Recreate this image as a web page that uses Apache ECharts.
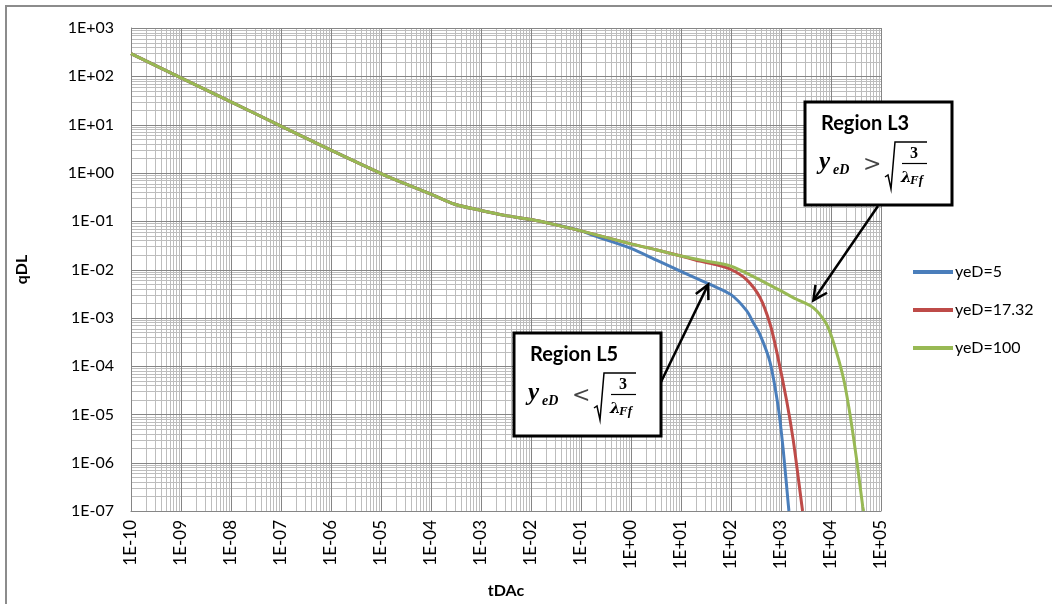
<!DOCTYPE html>
<html><head><meta charset="utf-8">
<script src="https://cdn.jsdelivr.net/npm/echarts@6/dist/echarts.min.js"></script>
<style>html,body{margin:0;padding:0;background:#fff}#c{width:1052px;height:604px}</style>
</head><body><div id="c"></div>
<script>
// ---------------- data ----------------
const seriesNames = ['yeD=5', 'yeD=17.32', 'yeD=100'];
const xTitle = 'tDAc';
const yTitle = 'qDL';

// common early-time part (all three curves overlap)
const tShared = [1e-10, 1e-9, 1e-8, 1e-7, 1e-6, 1e-5, 3e-5, 1e-4, 3e-4, 1e-3, 3e-3, 1e-2, 3e-2, 1e-1];
const qShared = [295, 93, 29.5, 9.3, 2.95, 0.97, 0.60, 0.363, 0.224, 0.167, 0.132, 0.108, 0.085, 0.063];

// yeD = 5
const tYeD5 = [0.18, 1, 3.16, 10, 38, 100, 205, 280, 380, 600, 883, 1110, 1400, 1440];
const qYeD5 = [0.0501, 0.0275, 0.0158, 0.00912, 0.0049, 0.00302, 0.00141, 7.9e-4, 4.5e-4, 1.23e-4, 1.38e-5, 1.8e-6, 1.35e-7, 1.0e-7];

// yeD = 100
const tYeD100 = [1, 3.16, 10, 30, 100, 300, 1000, 2000, 4400, 8000, 11100, 17600, 24000, 32700, 43000, 45000];
const qYeD100 = [0.0339, 0.0257, 0.019, 0.0151, 0.0117, 0.0069, 0.0036, 0.00245, 0.00162, 7.6e-4, 3.2e-4, 5.8e-5, 1.0e-5, 1.12e-6, 1.26e-7, 1.0e-7];

// yeD = 17.32 (follows yeD=100 up to t=10)
const tYeD17 = [1, 3.16, 10, 20, 50, 100, 200, 380, 600, 820, 1300, 1760, 2600, 2700];
const qYeD17 = [0.0339, 0.0257, 0.019, 0.0155, 0.0126, 0.01, 0.0063, 0.00263, 7.6e-4, 2.0e-4, 1.9e-5, 2.9e-6, 1.35e-7, 1.0e-7];

// axis ranges
const xRange = [1e-10, 1e5];
const yRange = [1e-7, 1e3];

// annotation arrow tips (data coordinates)
const tipL5 = [35, 4.9e-3];
const tipL3 = [4430, 2.3e-3];

// ---------------- helpers ----------------
function pairs(ts, qs) { return ts.map((t, i) => [t, qs[i]]); }
function sci(v) {
  const e = Math.round(Math.log10(v));
  const a = Math.abs(e);
  return '1E' + (e < 0 ? '-' : '+') + (a < 10 ? '0' : '') + a;
}
function gridValues(lo, hi) {
  const major = [], minor = [];
  const e0 = Math.round(Math.log10(lo)), e1 = Math.round(Math.log10(hi));
  for (let e = e0; e <= e1; e++) {
    major.push(Math.pow(10, e));
    if (e < e1) for (let m = 2; m <= 9; m++) minor.push(m * Math.pow(10, e));
  }
  return { major, minor };
}
const gx = gridValues(xRange[0], xRange[1]);
const gy = gridValues(yRange[0], yRange[1]);

const colors = ['#4A7EBB', '#BE4B48', '#98B954'];
const FONT = 'Lato';

function vLineSeries(vals, color, z) {
  return {
    type: 'custom', silent: true, z: z, legendHoverLink: false,
    data: vals.map(v => [v, 1]),
    renderItem: function (params, api) {
      const v = api.value(0);
      const a = api.coord([v, yRange[1]]), b = api.coord([v, yRange[0]]);
      const x = Math.round(a[0]) + 0.5;
      return { type: 'line', shape: { x1: x, y1: a[1], x2: x, y2: b[1] }, style: { stroke: color, lineWidth: 1 } };
    }
  };
}
function hLineSeries(vals, color, z) {
  return {
    type: 'custom', silent: true, z: z, legendHoverLink: false,
    data: vals.map(v => [1, v]),
    renderItem: function (params, api) {
      const v = api.value(1);
      const a = api.coord([xRange[0], v]), b = api.coord([xRange[1], v]);
      const y = Math.round(a[1]) + 0.5;
      return { type: 'line', shape: { x1: a[0], y1: y, x2: b[0], y2: y }, style: { stroke: color, lineWidth: 1 } };
    }
  };
}

const lineData = [
  pairs(tShared.concat(tYeD5), qShared.concat(qYeD5)),
  pairs(tShared.concat(tYeD17), qShared.concat(qYeD17)),
  pairs(tShared.concat(tYeD100), qShared.concat(qYeD100))
];

const chart = echarts.init(document.getElementById('c'), null, { renderer: 'canvas' });
const option = {
  animation: false,
  backgroundColor: '#fff',
  grid: { left: 131, top: 28, right: 171, bottom: 86, containLabel: false },
  legend: {
    data: seriesNames,
    orient: 'vertical', left: 911, top: 264, padding: 0,
    itemWidth: 40, itemHeight: 14, itemGap: 22,
    itemStyle: { opacity: 0, borderWidth: 0 },
    lineStyle: { width: 4 },
    textStyle: { fontFamily: FONT, fontSize: 16, color: '#000', padding: [0, 0, 0, -3] }
  },
  xAxis: {
    type: 'log', logBase: 10, min: xRange[0], max: xRange[1], interval: 1, splitNumber: 15,
    name: xTitle, nameLocation: 'middle', nameGap: 72,
    nameTextStyle: { fontFamily: FONT, fontSize: 16, fontWeight: 'bold', color: '#000' },
    axisLine: { show: true, lineStyle: { color: '#868686', width: 1 } },
    axisTick: { show: false },
    splitLine: { show: false },
    axisLabel: { rotate: 90, margin: 9, fontFamily: FONT, fontSize: 17, color: '#000', formatter: sci, showMinLabel: true, showMaxLabel: true, hideOverlap: false }
  },
  yAxis: {
    type: 'log', logBase: 10, min: yRange[0], max: yRange[1], interval: 1, splitNumber: 10,
    name: yTitle, nameLocation: 'middle', nameGap: 101,
    nameTextStyle: { fontFamily: FONT, fontSize: 16, fontWeight: 'bold', color: '#000' },
    axisLine: { show: true, lineStyle: { color: '#868686', width: 1 } },
    axisTick: { show: false },
    splitLine: { show: false },
    axisLabel: { margin: 17, fontFamily: FONT, fontSize: 16, color: '#000', formatter: sci, showMinLabel: true, showMaxLabel: true, hideOverlap: false }
  },
  series: [
    vLineSeries(gx.minor, '#bdbdbd', 1),
    hLineSeries(gy.minor, '#bdbdbd', 1),
    vLineSeries(gx.major, '#868686', 1),
    hLineSeries(gy.major, '#868686', 1)
  ].concat(seriesNames.map((n, i) => ({
    name: n, type: 'line', data: lineData[i], z: 5,
    symbol: 'none', showSymbol: false, smooth: 0.3,
    lineStyle: { color: colors[i], width: 3 }, itemStyle: { color: colors[i] }
  })))
};
chart.setOption(option);

// ---------------- annotations ----------------
const g = [];
g.push({ type: 'rect', shape: { x: 6, y: 6, width: 1200, height: 1200 }, style: { fill: null, stroke: '#8c8c8c', lineWidth: 2 }, z: 100, silent: true });

function arrow(tail, tip) {
  const dx = tip[0] - tail[0], dy = tip[1] - tail[1];
  const L = Math.sqrt(dx * dx + dy * dy), ux = dx / L, uy = dy / L;
  const nx = -uy, ny = ux, len = 14, w = 7;
  g.push({ type: 'line', shape: { x1: tail[0], y1: tail[1], x2: tip[0] - ux * 1, y2: tip[1] - uy * 1 }, style: { stroke: '#000', lineWidth: 2.5 }, z: 110 });
  g.push({ type: 'polyline', shape: { points: [[tip[0] - ux * len + nx * w, tip[1] - uy * len + ny * w], [tip[0], tip[1]], [tip[0] - ux * len - nx * w, tip[1] - uy * len - ny * w]] }, style: { stroke: '#000', lineWidth: 2.5, fill: null, lineJoin: 'miter' }, z: 110 });
}

function txt(x, y, s, font, extra) {
  g.push({ type: 'text', x: x, y: y, z: 121, style: Object.assign({ text: s, font: font, fill: '#000', verticalAlign: 'middle', align: 'left' }, extra || {}) });
}

function box(ox, oy, title, rel) {
  g.push({ type: 'rect', shape: { x: ox, y: oy, width: 147, height: 103 }, style: { fill: '#fff', stroke: '#000', lineWidth: 3 }, z: 120 });
  txt(ox + 16, oy + 22, title, 'bold 20px ' + FONT);
  txt(ox + 14, oy + 61, 'y', 'italic bold 25px "Liberation Serif"');
  txt(ox + 28, oy + 68, 'eD', 'italic bold 14px "Liberation Serif"');
  txt(ox + 58, oy + 63, rel, '22px "DejaVu Serif"', { fill: '#444' });
  g.push({ type: 'polyline', shape: { points: [[ox + 80, oy + 75], [ox + 83, oy + 73], [ox + 86, oy + 87], [ox + 90, oy + 40], [ox + 122, oy + 40]] }, style: { stroke: '#000', lineWidth: 1.5, fill: null }, z: 121 });
  txt(ox + 109, oy + 52, '3', 'bold 16px "Liberation Serif"', { align: 'center' });
  g.push({ type: 'line', shape: { x1: ox + 97, y1: oy + 61.5, x2: ox + 122, y2: oy + 61.5 }, style: { stroke: '#000', lineWidth: 1.2 }, z: 121 });
  txt(ox + 96, oy + 76, 'λ', 'italic bold 15px "DejaVu Serif"');
  txt(ox + 105, oy + 79, 'Ff', 'italic bold 13px "Liberation Serif"');
}

const pL5 = chart.convertToPixel({ xAxisIndex: 0, yAxisIndex: 0 }, tipL5);
const pL3 = chart.convertToPixel({ xAxisIndex: 0, yAxisIndex: 0 }, tipL3);
arrow([661, 382], pL5);
arrow([878, 206], pL3);
box(514, 333, 'Region L5', '<');
box(805, 102, 'Region L3', '>');

chart.setOption({ graphic: { elements: g } });
</script>
</body></html>
